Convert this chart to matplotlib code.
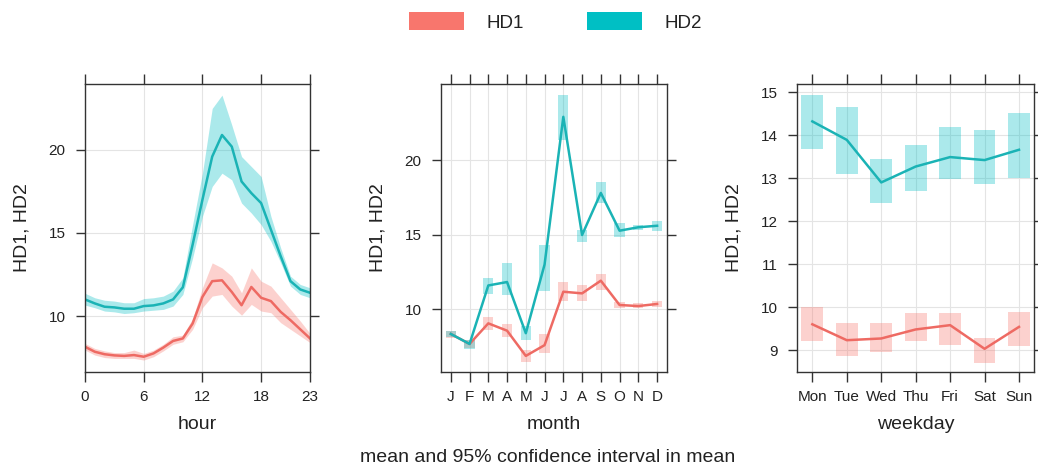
import numpy as np
import matplotlib.pyplot as plt
from matplotlib.patches import Patch

plt.rcParams['font.family'] = ['Liberation Sans', 'DejaVu Sans']

COL1 = '#F8766D'
COL2 = '#00BFC4'
LINE1 = '#EE6A63'
LINE2 = '#1AB3B5'
TXT = '#222222'

# hour panel
hours = list(range(24))
hd1_hour = [8.15, 7.85, 7.7, 7.63, 7.6, 7.65, 7.55, 7.75, 8.1, 8.5, 8.65, 9.55,
            11.15, 12.1, 12.15, 11.45, 10.65, 11.75, 11.1, 10.9, 10.25, 9.75, 9.2, 8.65]
hd1_hour_lo = [7.95, 7.65, 7.5, 7.45, 7.45, 7.45, 7.35, 7.55, 7.9, 8.3, 8.45, 9.2,
               10.5, 11.2, 11.3, 10.6, 10.05, 10.7, 10.3, 10.2, 9.6, 9.2, 8.8, 8.4]
hd1_hour_hi = [8.35, 8.05, 7.9, 7.8, 7.8, 7.95, 7.75, 7.95, 8.3, 8.75, 8.85, 9.85,
               11.7, 13.2, 12.9, 12.4, 11.4, 12.9, 12.1, 11.8, 11.1, 10.4, 9.7, 8.95]
hd2_hour = [11.0, 10.76, 10.56, 10.52, 10.44, 10.44, 10.6, 10.64, 10.76, 11.0, 11.73, 14.3,
            17.0, 19.6, 20.9, 20.2, 18.1, 17.4, 16.8, 15.2, 13.6, 12.1, 11.6, 11.4]
hd2_hour_lo = [10.66, 10.5, 10.3, 10.25, 10.15, 10.2, 10.3, 10.35, 10.4, 10.6, 11.3, 13.5,
               16.0, 17.8, 18.6, 18.2, 16.8, 16.2, 15.5, 14.5, 13.2, 11.8, 11.3, 11.1]
hd2_hour_hi = [11.37, 11.1, 10.95, 10.9, 10.8, 10.8, 11.05, 11.1, 11.2, 11.5, 12.3, 15.5,
               18.6, 22.5, 23.3, 21.5, 19.6, 19.0, 18.4, 16.0, 14.1, 12.4, 11.9, 11.7]

# month panel
months = ['J', 'F', 'M', 'A', 'M', 'J', 'J', 'A', 'S', 'O', 'N', 'D']
hd1_month = [8.35, 7.68, 9.06, 8.57, 6.88, 7.6, 11.18, 11.07, 11.92, 10.29, 10.22, 10.36]
hd1_month_lo = [8.1, 7.4, 8.6, 8.12, 6.5, 7.05, 10.58, 10.58, 11.3, 10.06, 10.07, 10.18]
hd1_month_hi = [8.55, 7.95, 9.5, 9.0, 7.28, 8.35, 11.85, 11.63, 12.4, 10.5, 10.4, 10.58]
hd2_month = [8.35, 7.68, 11.6, 11.83, 8.4, 13.0, 22.9, 14.98, 17.8, 15.27, 15.5, 15.6]
hd2_month_lo = [8.15, 7.35, 11.05, 10.95, 7.95, 11.2, 21.35, 14.5, 17.1, 14.85, 15.3, 15.25]
hd2_month_hi = [8.55, 7.95, 12.1, 13.1, 8.85, 14.3, 24.35, 15.3, 18.55, 15.8, 15.65, 15.95]

# weekday panel
weekdays = ['Mon', 'Tue', 'Wed', 'Thu', 'Fri', 'Sat', 'Sun']
hd1_wd = [9.6, 9.23, 9.27, 9.48, 9.58, 9.03, 9.54]
hd1_wd_lo = [9.22, 8.86, 8.95, 9.21, 9.12, 8.71, 9.09]
hd1_wd_hi = [10.0, 9.63, 9.63, 9.87, 9.87, 9.29, 9.89]
hd2_wd = [14.32, 13.89, 12.9, 13.27, 13.49, 13.42, 13.66]
hd2_wd_lo = [13.67, 13.09, 12.43, 12.69, 12.98, 12.86, 13.0]
hd2_wd_hi = [14.94, 14.65, 13.45, 13.77, 14.18, 14.12, 14.51]


def style_axes(ax, xlabel):
    for s in ax.spines.values():
        s.set_color('#333333')
        s.set_linewidth(1.0)
    ax.tick_params(direction='out', length=7, width=1.0, color='#333333',
                   labelsize=11, labelcolor=TXT, pad=6,
                   top=True, right=True, labeltop=False, labelright=False)
    ax.tick_params(axis='y', length=6.5, pad=7.5)
    ax.grid(True, color='#e4e4e4', linewidth=0.8)
    ax.set_axisbelow(True)
    ax.set_ylabel('HD1, HD2', fontsize=14, color=TXT, labelpad=13)
    ax.set_xlabel(xlabel, fontsize=14, color=TXT, labelpad=8.5)


def box_plot(ax, x, mean, lo, hi, col, lcol, width):
    x = np.array(x)
    lo = np.array(lo)
    hi = np.array(hi)
    ax.bar(x, hi - lo, bottom=lo, width=width, color=col, alpha=0.33, linewidth=0)
    ax.plot(x, mean, color=lcol, linewidth=1.8)


fig = plt.figure(figsize=(10.38, 4.69), dpi=100)

ax1 = fig.add_axes([0.0819, 0.2068, 0.2168, 0.6141])
ax1.fill_between(hours, hd1_hour_lo, hd1_hour_hi, color=COL1, alpha=0.33, linewidth=0)
ax1.fill_between(hours, hd2_hour_lo, hd2_hour_hi, color=COL2, alpha=0.33, linewidth=0)
ax1.plot(hours, hd1_hour, color=LINE1, linewidth=1.8)
ax1.plot(hours, hd2_hour, color=LINE2, linewidth=1.8)
ax1.set_xlim(0, 23)
ax1.set_ylim(6.63, 23.97)
ax1.set_xticks([0, 6, 12, 18, 23])
ax1.set_yticks([10, 15, 20])
style_axes(ax1, 'hour')

ax2 = fig.add_axes([0.4249, 0.2068, 0.2177, 0.6141])
mx = np.arange(1, 13)
box_plot(ax2, mx, hd1_month, hd1_month_lo, hd1_month_hi, COL1, LINE1, 0.55)
box_plot(ax2, mx, hd2_month, hd2_month_lo, hd2_month_hi, COL2, LINE2, 0.55)
ax2.set_xlim(0.48, 12.53)
ax2.set_ylim(5.8, 25.1)
ax2.set_xticks(mx)
ax2.set_xticklabels(months)
ax2.set_yticks([10, 15, 20])
style_axes(ax2, 'month')

ax3 = fig.add_axes([0.7680, 0.2068, 0.2283, 0.6141])
wx = np.arange(1, 8)
box_plot(ax3, wx, hd1_wd, hd1_wd_lo, hd1_wd_hi, COL1, LINE1, 0.63)
box_plot(ax3, wx, hd2_wd, hd2_wd_lo, hd2_wd_hi, COL2, LINE2, 0.63)
ax3.set_xlim(0.56, 7.44)
ax3.set_ylim(8.49, 15.19)
ax3.set_xticks(wx)
ax3.set_xticklabels(weekdays)
ax3.set_yticks(range(9, 16))
style_axes(ax3, 'weekday')

handles = [Patch(facecolor=COL1, edgecolor='none', label='HD1'),
           Patch(facecolor=COL2, edgecolor='none', label='HD2')]
fig.legend(handles=handles, loc='center', bbox_to_anchor=(0.535, 0.953), ncol=2,
           frameon=False, fontsize=13.5, handlelength=2.93, handleheight=1.05,
           columnspacing=3.4, handletextpad=1.17, labelcolor=TXT)

fig.text(0.528, 0.014, 'mean and 95% confidence interval in mean', ha='center',
         va='baseline', fontsize=14, color=TXT)

fig.savefig('out.png', dpi=100)
